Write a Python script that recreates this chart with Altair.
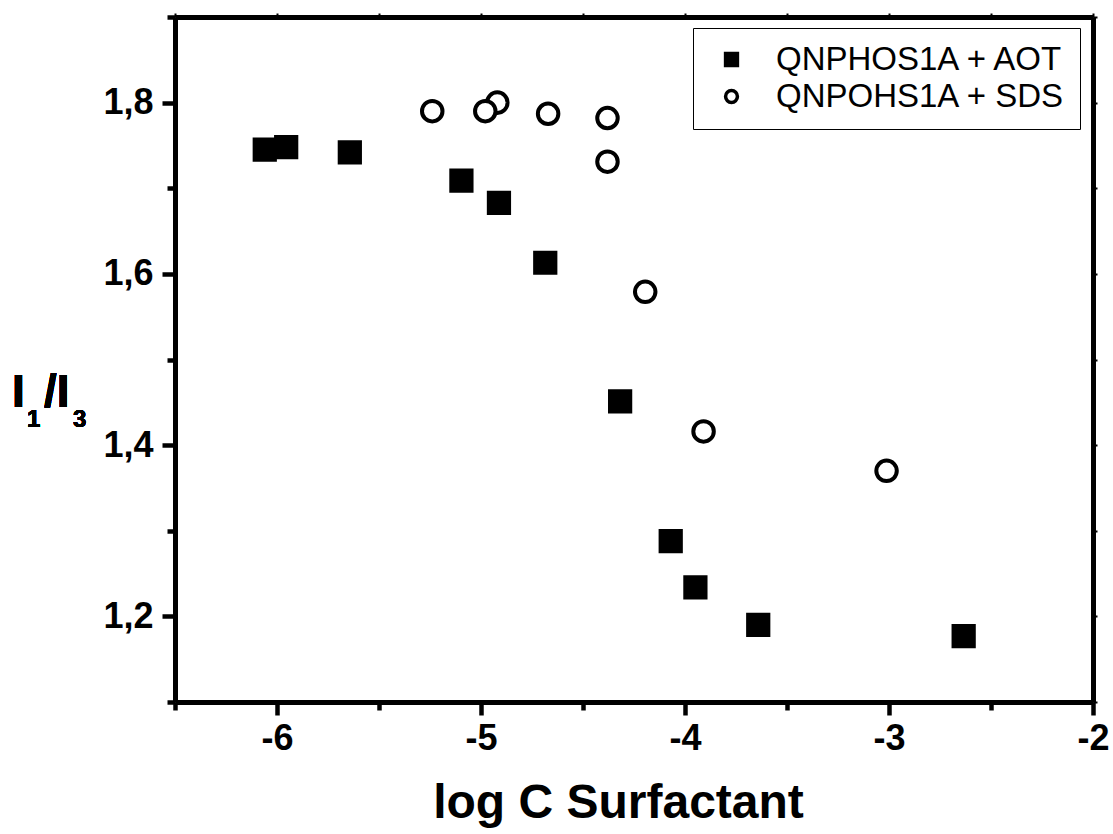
import altair as alt
import pandas as pd

# ---- data ----
aot_x = [-6.06, -5.955, -5.643, -5.096, -4.912, -4.685, -4.318, -4.07, -3.949, -3.641, -2.634]
aot_y = [1.745, 1.748, 1.742, 1.709, 1.683, 1.613, 1.451, 1.288, 1.234, 1.190, 1.177]
sds_x = [-5.239, -4.920, -4.979, -4.671, -4.380, -4.380, -4.195, -3.909, -3.012]
sds_y = [1.790, 1.800, 1.790, 1.787, 1.782, 1.731, 1.579, 1.416, 1.370]
series_names = ["QNPHOS1A + AOT", "QNPOHS1A + SDS"]

x_ticks = [-6.5, -6, -5.5, -5, -4.5, -4, -3.5, -3, -2.5, -2]
y_ticks = [1.1, 1.2, 1.3, 1.4, 1.5, 1.6, 1.7, 1.8, 1.9]
x_domain = [-6.5, -2]
y_domain = [1.1, 1.9]
x_title = "log C Surfactant"
y_title_parts = ["I", "1", "/I", "3"]

aot = pd.DataFrame({"x": aot_x, "y": aot_y, "series": series_names[0]})
sds = pd.DataFrame({"x": sds_x, "y": sds_y, "series": series_names[1]})

FONT = "Liberation Sans"
x_major = "round(datum.value*2) % 2 === 0"
y_major = "round(datum.value*10) % 2 === 0"

xs = alt.Scale(domain=x_domain, nice=False, zero=False)
ys = alt.Scale(domain=y_domain, nice=False, zero=False)

x_axis = alt.Axis(
    values=x_ticks, grid=False, domainColor="black", domainWidth=5,
    tickColor="black", tickWidth=4.5,
    tickSize={"condition": {"test": x_major, "value": 13}, "value": 8},
    labelExpr=f"{x_major} ? toString(datum.value) : ''",
    labelFont=FONT, labelFontSize=36, labelFontWeight="bold", labelColor="black",
    labelPadding=6, labelFlush=False, labelOverlap=False,
    title=x_title, titleFont=FONT, titleFontSize=48, titleFontWeight="bold",
    titleColor="black", titleX=443, titleY=115, titleAlign="center",
    titleBaseline="alphabetic",
)
y_axis = alt.Axis(
    values=y_ticks, grid=False, domainColor="black", domainWidth=5,
    tickColor="black", tickWidth=4.5,
    tickSize={"condition": {"test": y_major, "value": 13}, "value": 8},
    labelExpr=f"{y_major} ? replace(format(datum.value, '.1f'), '.', ',') : ''",
    labelFont=FONT, labelFontSize=36, labelFontWeight="bold", labelColor="black",
    labelPadding=9, labelFlush=False, labelOverlap=False, title=None,
)

shape_scale = alt.Scale(domain=series_names, range=["square", "circle"])
fill_scale = alt.Scale(domain=series_names, range=["black", "white"])
stroke_scale = alt.Scale(domain=series_names, range=["black", "black"])
legend = alt.Legend(
    title=None, orient="none", legendX=518, legendY=11, direction="vertical",
    labelFont=FONT, labelFontSize=33, labelColor="black", labelFontWeight="normal",
    symbolSize=140, symbolStrokeColor="black", symbolStrokeWidth=3.5,
    symbolOffset=7, labelOffset=28, padding=15, rowPadding=3,
    strokeColor="black", fillColor="white", labelLimit=500,
)

squares = alt.Chart(aot).mark_point(
    filled=True, size=430, strokeWidth=3.5, opacity=1
).encode(
    x=alt.X("x:Q", scale=xs, axis=x_axis),
    y=alt.Y("y:Q", scale=ys, axis=y_axis),
    shape=alt.Shape("series:N", scale=shape_scale, legend=legend),
    fill=alt.Fill("series:N", scale=fill_scale, legend=legend),
    stroke=alt.Stroke("series:N", scale=stroke_scale, legend=legend),
)

circles = alt.Chart(sds).mark_point(
    filled=True, size=420, strokeWidth=4, opacity=1
).encode(
    x=alt.X("x:Q", scale=xs, axis=None),
    y=alt.Y("y:Q", scale=ys, axis=None),
    shape=alt.Shape("series:N", scale=shape_scale, legend=legend),
    fill=alt.Fill("series:N", scale=fill_scale, legend=legend),
    stroke=alt.Stroke("series:N", scale=stroke_scale, legend=legend),
)

mirror = alt.Chart(aot).mark_point(opacity=0).encode(
    x=alt.X("x:Q", scale=xs, axis=alt.Axis(
        orient="top", values=x_ticks, labels=False, grid=False,
        domainColor="black", domainWidth=5, tickColor="black",
        tickWidth=2, tickSize=4, title=None)),
    y=alt.Y("y:Q", scale=ys, axis=alt.Axis(
        orient="right", values=y_ticks, labels=False, grid=False,
        domainColor="black", domainWidth=5, tickColor="black",
        tickWidth=2, tickSize=4, title=None)),
)

def piece(txt, px, py, size):
    return alt.Chart(aot).mark_text(
        text=txt, font=FONT, fontSize=size, fontWeight="bold", color="black",
        align="left", baseline="alphabetic"
    ).encode(x=alt.value(px), y=alt.value(py))

t1 = piece(y_title_parts[0], -163, 390, 46)
t2 = piece(y_title_parts[1], -148, 410, 24)
t3 = piece(y_title_parts[2], -131, 390, 46)
t4 = piece(y_title_parts[3], -102, 410, 24)

chart = alt.layer(squares, circles, mirror, t1, t2, t3, t4).resolve_axis(
    x="independent", y="independent"
).properties(
    width=918, height=685,
    padding={"left": 175, "top": 17, "right": 20, "bottom": 132},
    autosize=alt.AutoSizeParams(type="none"),
).configure_view(stroke="transparent").configure(background="white")

chart.save("out.html", embed_options={"renderer": "svg", "actions": False})
